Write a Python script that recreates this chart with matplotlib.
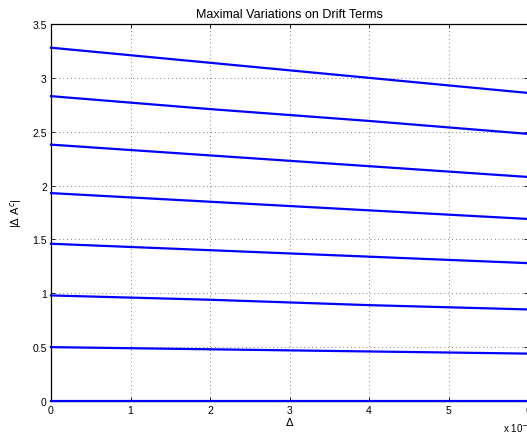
import numpy as np
import matplotlib
matplotlib.use("Agg")
import matplotlib.pyplot as plt
from matplotlib.ticker import FuncFormatter

plt.rcParams["font.family"] = ["Liberation Sans", "DejaVu Sans"]

# step sizes (Delta)
delta = [0.0, 0.002, 0.004, 0.006]

# maximal variations |Delta A^c| for each drift term
curves = [
    [3.28, 3.14, 3.00, 2.86],
    [2.83, 2.71, 2.60, 2.48],
    [2.38, 2.28, 2.18, 2.08],
    [1.93, 1.85, 1.77, 1.69],
    [1.46, 1.40, 1.34, 1.28],
    [0.98, 0.94, 0.89, 0.85],
    [0.50, 0.48, 0.46, 0.44],
    [0.00, 0.00, 0.00, 0.00],
]

xticks = [0, 0.001, 0.002, 0.003, 0.004, 0.005, 0.006]
yticks = [0, 0.5, 1, 1.5, 2, 2.5, 3, 3.5]

fig = plt.figure(figsize=(5.27, 4.35), dpi=100)
ax = fig.add_axes([51 / 527, 1 - 402 / 435, 477 / 527, 377 / 435])

for c in curves:
    ax.plot(delta, c, color="#0000ff", linewidth=1.6, clip_on=False, zorder=3)

ax.set_xlim(0, 0.006)
ax.set_ylim(0, 3.5)
ax.set_xticks(xticks)
ax.set_yticks(yticks)
ax.xaxis.set_major_formatter(FuncFormatter(lambda v, p: f"{v * 1000:g}"))
ax.yaxis.set_major_formatter(FuncFormatter(lambda v, p: f"{v:g}"))
ax.grid(True, linestyle=(0, (1, 3)), color="#808080", linewidth=0.7)
ax.tick_params(direction="in", length=3, labelsize=7.5, width=0.6,
               top=True, right=True, pad=3)
for s in ax.spines.values():
    s.set_linewidth(0.9)

ax.set_title("Maximal Variations on Drift Terms", fontsize=9, pad=5)
ax.set_xlabel(r"$\Delta$", fontsize=8, labelpad=0)
ax.set_ylabel(r"|$\Delta$ A$^c$|", fontsize=8, labelpad=6)
ax.text(0.948, -0.05, r"x 10$^{-3}$", transform=ax.transAxes,
        fontsize=7, ha="left", va="top")

fig.savefig("out.png", dpi=100)
